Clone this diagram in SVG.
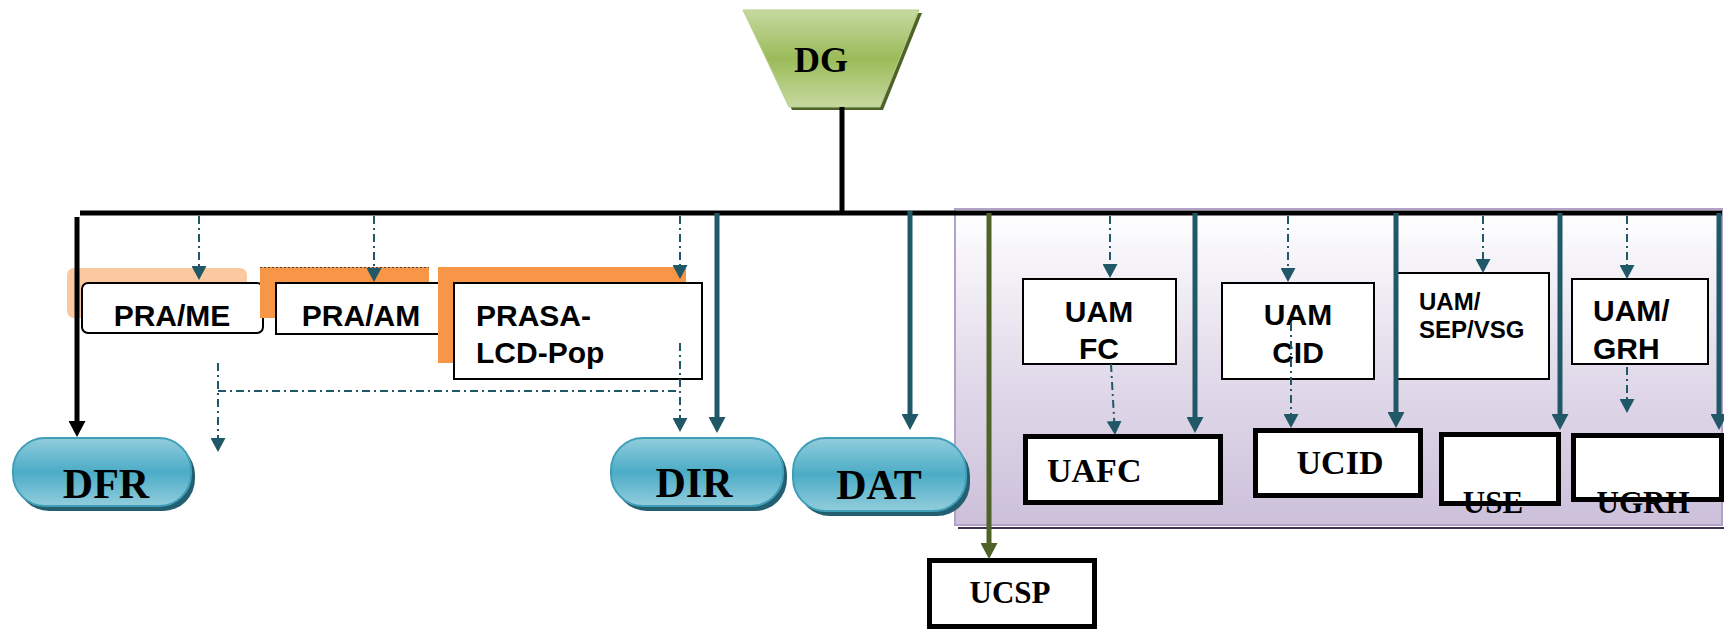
<svg xmlns="http://www.w3.org/2000/svg" width="1724" height="631" viewBox="0 0 1724 631">
<defs>
<linearGradient id="gGreen" x1="0" y1="0" x2="0" y2="1">
<stop offset="0" stop-color="#C6D9A0"/><stop offset="0.5" stop-color="#9BBB59"/><stop offset="1" stop-color="#C6D9A0"/>
</linearGradient>
<linearGradient id="gBlue" x1="0" y1="0" x2="0" y2="1">
<stop offset="0" stop-color="#92CDDC"/><stop offset="0.5" stop-color="#4BACC6"/><stop offset="1" stop-color="#92CDDC"/>
</linearGradient>
<linearGradient id="gPurple" x1="0" y1="0" x2="0" y2="1">
<stop offset="0" stop-color="#FFFFFF"/><stop offset="0.5" stop-color="#E3DCEB"/><stop offset="1" stop-color="#CCC0DA"/>
</linearGradient>
<marker id="mSolid" viewBox="0 0 16 17" refX="0" refY="8.5" markerWidth="16" markerHeight="17" markerUnits="userSpaceOnUse" orient="auto">
<path d="M0,0 L16,8.5 L0,17 Z" fill="#215868"/>
</marker>
<marker id="mDash" viewBox="0 0 14 15" refX="0" refY="7.5" markerWidth="14" markerHeight="15" markerUnits="userSpaceOnUse" orient="auto">
<path d="M0,0 L14,7.5 L0,15 Z" fill="#215868"/>
</marker>
<marker id="mBlack" viewBox="0 0 16 17" refX="0" refY="8.5" markerWidth="16" markerHeight="17" markerUnits="userSpaceOnUse" orient="auto">
<path d="M0,0 L16,8.5 L0,17 Z" fill="#000"/>
</marker>
<marker id="mGreen" viewBox="0 0 16 17" refX="0" refY="8.5" markerWidth="16" markerHeight="17" markerUnits="userSpaceOnUse" orient="auto">
<path d="M0,0 L16,8.5 L0,17 Z" fill="#4F6228"/>
</marker>
<style>
.sans{font-family:"Liberation Sans",Arial,sans-serif;font-weight:bold;fill:#000}
.serif{font-family:"Liberation Serif","Times New Roman",serif;font-weight:bold;fill:#000}
.box{fill:#fff;stroke:#000;stroke-width:2}
.thick{fill:#fff;stroke:#000;stroke-width:5}
.pill{fill:url(#gBlue);stroke:#3F9FB9;stroke-width:2}
.pillsh{fill:#245F70}
.solid{stroke:#215868;stroke-width:5;fill:none;marker-end:url(#mSolid)}
.dash{stroke:#215868;stroke-width:2;fill:none;stroke-dasharray:8 4 2 4;marker-end:url(#mDash)}
.dashn{stroke:#215868;stroke-width:2;fill:none;stroke-dasharray:8 4 2 4}
.blk{stroke:#000;stroke-width:5;fill:none}
</style>
</defs>
<rect width="1724" height="631" fill="#fff"/>

<g id="zone">
<line x1="958" y1="528" x2="1724" y2="528" stroke="#403152" stroke-width="2"/>
<rect x="955" y="209" width="767" height="316" fill="url(#gPurple)" stroke="#B3A2C7" stroke-width="2"/>
</g>

<g id="DG">
<polygon points="746,13 922,13 883,110 792,110" fill="#4F6228"/>
<polygon points="743,10 919,10 880,107 789,107" fill="url(#gGreen)" stroke="#B7CE8A" stroke-width="1"/>
<text class="serif" x="821" y="72" font-size="36" text-anchor="middle">DG</text>
</g>

<g id="PRA-ME">
<rect x="67" y="268" width="180" height="50" rx="7" fill="#FBC9A0"/>
<rect class="box" x="82" y="283" width="181" height="50" rx="6"/>
<text class="sans" x="172" y="326" font-size="30" text-anchor="middle">PRA/ME</text>
</g>

<g id="PRA-AM">
<rect x="260" y="267" width="169" height="51" fill="#F79646"/>
<line x1="260" y1="267.5" x2="429" y2="267.5" stroke="#444" stroke-width="1" stroke-dasharray="2 2"/>
<rect class="box" x="276" y="283" width="170" height="51"/>
<text class="sans" x="361" y="326" font-size="30" text-anchor="middle">PRA/AM</text>
</g>

<g id="PRASA">
<rect x="438" y="267" width="248" height="96" fill="#F79646"/>
<rect class="box" x="454" y="283" width="248" height="96"/>
<text class="sans" x="476" y="326" font-size="30">PRASA-</text>
<text class="sans" x="476" y="363" font-size="30">LCD-Pop</text>
</g>

<g id="DFR">
<rect class="pillsh" x="17" y="443" width="178" height="68" rx="32"/>
<rect class="pill" x="13" y="438" width="178" height="68" rx="32"/>
<text class="serif" x="106" y="498" font-size="42" text-anchor="middle">DFR</text>
</g>

<g id="DIR">
<rect class="pillsh" x="615" y="443" width="172" height="68" rx="32"/>
<rect class="pill" x="611" y="438" width="172" height="68" rx="32"/>
<text class="serif" x="694" y="497" font-size="42" text-anchor="middle">DIR</text>
</g>

<g id="DAT">
<rect class="pillsh" x="797" y="443" width="173" height="73" rx="33"/>
<rect class="pill" x="793" y="438" width="173" height="73" rx="33"/>
<text class="serif" x="879" y="499" font-size="42" text-anchor="middle">DAT</text>
</g>

<g id="UAM-FC">
<rect class="box" x="1023" y="279" width="153" height="85" stroke-width="1.5"/>
<text class="sans" x="1099" y="322" font-size="30" text-anchor="middle">UAM</text>
<text class="sans" x="1099" y="359" font-size="30" text-anchor="middle">FC</text>
</g>

<g id="UAM-CID">
<rect class="box" x="1222" y="283" width="152" height="96" stroke-width="1.5"/>
<text class="sans" x="1298" y="325" font-size="30" text-anchor="middle">UAM</text>
<text class="sans" x="1298" y="363" font-size="30" text-anchor="middle">CID</text>
</g>

<g id="UAM-SEP-VSG">
<rect class="box" x="1397" y="273" width="152" height="106" stroke-width="1.5"/>
<text class="sans" x="1419" y="310" font-size="24">UAM/</text>
<text class="sans" x="1419" y="338" font-size="24">SEP/VSG</text>
</g>

<g id="UAM-GRH">
<rect class="box" x="1572" y="279" width="136" height="85" stroke-width="1.5"/>
<text class="sans" x="1593" y="321" font-size="30">UAM/</text>
<text class="sans" x="1593" y="359" font-size="30">GRH</text>
</g>

<g id="UAFC">
<rect class="thick" x="1025.5" y="436.5" width="195" height="66"/>
<text class="serif" x="1047" y="482" font-size="34">UAFC</text>
</g>

<g id="UCID">
<rect class="thick" x="1255.5" y="430.5" width="165" height="65"/>
<text class="serif" x="1340" y="474" font-size="34" text-anchor="middle">UCID</text>
</g>

<g id="USE">
<rect class="thick" x="1441.5" y="434.5" width="117" height="69"/>
<text class="serif" x="1493" y="513" font-size="31" text-anchor="middle">USE</text>
</g>

<g id="UGRH">
<rect class="thick" x="1573.5" y="435.5" width="148" height="64"/>
<text class="serif" x="1643" y="513" font-size="31" text-anchor="middle">UGRH</text>
</g>

<g id="UCSP">
<rect class="thick" x="929.5" y="560.5" width="165" height="66"/>
<text class="serif" x="1010" y="603" font-size="31" text-anchor="middle">UCSP</text>
</g>

<g id="connectors">
<line class="blk" x1="842" y1="107" x2="842" y2="213"/>
<line class="blk" x1="80" y1="213" x2="1722" y2="213"/>
<line class="blk" x1="77" y1="217" x2="77" y2="421" style="marker-end:url(#mBlack)"/>
<line class="dash" x1="199" y1="216" x2="199" y2="266"/>
<line class="dash" x1="374" y1="216" x2="374" y2="268"/>
<line class="dash" x1="680" y1="216" x2="680" y2="265"/>
<line class="solid" x1="717" y1="213" x2="717" y2="417"/>
<line class="solid" x1="910" y1="211" x2="910" y2="414"/>
<line class="dashn" x1="218" y1="391" x2="680" y2="391"/>
<line class="dash" x1="218" y1="363" x2="218" y2="438"/>
<line class="dash" x1="680" y1="343" x2="680" y2="418"/>
<line x1="989" y1="213" x2="989" y2="543" stroke="#4F6228" stroke-width="5" style="marker-end:url(#mGreen)"/>
<line class="dash" x1="1110" y1="216" x2="1110" y2="264"/>
<line class="dash" x1="1111" y1="364" x2="1114.2" y2="421"/>
<line class="solid" x1="1195" y1="213" x2="1195" y2="417"/>
<line class="dash" x1="1288" y1="216" x2="1288" y2="268"/>
<line class="dash" x1="1291" y1="323" x2="1291" y2="414"/>
<line class="solid" x1="1396" y1="213" x2="1396" y2="412"/>
<line class="dash" x1="1483" y1="216" x2="1483" y2="259"/>
<line class="solid" x1="1560" y1="213" x2="1560" y2="414"/>
<line class="dash" x1="1627" y1="216" x2="1627" y2="265"/>
<line class="dash" x1="1627" y1="367" x2="1627" y2="399"/>
<line class="solid" x1="1719" y1="213" x2="1719" y2="414"/>
</g>
</svg>
